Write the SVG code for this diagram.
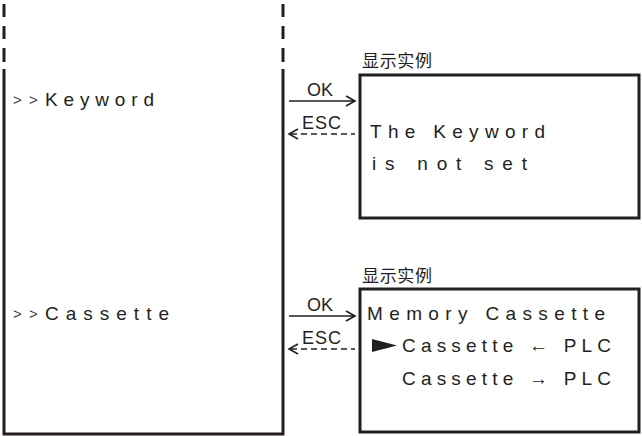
<svg xmlns="http://www.w3.org/2000/svg" width="642" height="436" viewBox="0 0 642 436">
<style>
.ln{stroke:#231f20;stroke-width:3;fill:none}
.thin{stroke:#231f20;stroke-width:1.6;fill:none}
.dash{stroke:#231f20;stroke-width:1.6;fill:none;stroke-dasharray:6 4}
.t{font-family:"Liberation Sans",Arial,sans-serif;font-size:19px;fill:#231f20}
.chev{font-family:"Liberation Sans",Arial,sans-serif;font-size:15px;fill:#3a3a3a}
.lbl{font-family:"Liberation Sans",Arial,sans-serif;font-size:18px;fill:#231f20}
.cjk{font-family:"Liberation Sans","Noto Sans CJK SC",sans-serif;font-size:17px;fill:#231f20}
</style>
<rect width="642" height="436" fill="#ffffff"/>
<g id="menu-panel">
<path class="ln" d="M4,4V17M4,26V39M4,48V62M283,4V17M283,26V39M283,48V62"/>
<path class="ln" d="M4,69V434H283V69"/>
<text class="chev" x="13" y="105">&gt;</text>
<text class="chev" x="29" y="105">&gt;</text>
<text class="t" x="45" y="106" textLength="109" lengthAdjust="spacing">Keyword</text>
<text class="chev" x="13" y="319">&gt;</text>
<text class="chev" x="29" y="319">&gt;</text>
<text class="t" x="45" y="320" textLength="124" lengthAdjust="spacing">Cassette</text>
</g>
<g id="display-keyword">
<text class="cjk" x="362" y="67" textLength="70" lengthAdjust="spacing">显示实例</text>
<rect class="ln" x="360" y="75" width="279" height="143"/>
<text class="t" x="370" y="138" textLength="175" lengthAdjust="spacing">The Keyword</text>
<text class="t" x="372" y="170" textLength="155" lengthAdjust="spacing">is not set</text>
</g>
<g id="display-cassette">
<text class="cjk" x="362" y="282" textLength="70" lengthAdjust="spacing">显示实例</text>
<rect class="ln" x="360" y="289" width="279" height="143"/>
<text class="t" x="367" y="320" textLength="238" lengthAdjust="spacing">Memory Cassette</text>
<polygon points="372,339 397,345.5 372,352" fill="#231f20"/>
<text class="t" x="402" y="352" textLength="209" lengthAdjust="spacing">Cassette ← PLC</text>
<text class="t" x="402" y="385" textLength="209" lengthAdjust="spacing">Cassette → PLC</text>
</g>
<g id="connectors">
<path class="thin" d="M289,101H355M346,96L355,101L346,106"/>
<path class="dash" d="M291,134H355"/>
<path class="thin" d="M298,129L289,134L298,139"/>
<text class="lbl" x="307" y="96">OK</text>
<text class="lbl" x="302" y="129" textLength="39" lengthAdjust="spacing">ESC</text>
<path class="thin" d="M289,316H355M346,311L355,316L346,321"/>
<path class="dash" d="M291,349H355"/>
<path class="thin" d="M298,344L289,349L298,354"/>
<text class="lbl" x="307" y="311">OK</text>
<text class="lbl" x="302" y="344" textLength="39" lengthAdjust="spacing">ESC</text>
</g>
</svg>
